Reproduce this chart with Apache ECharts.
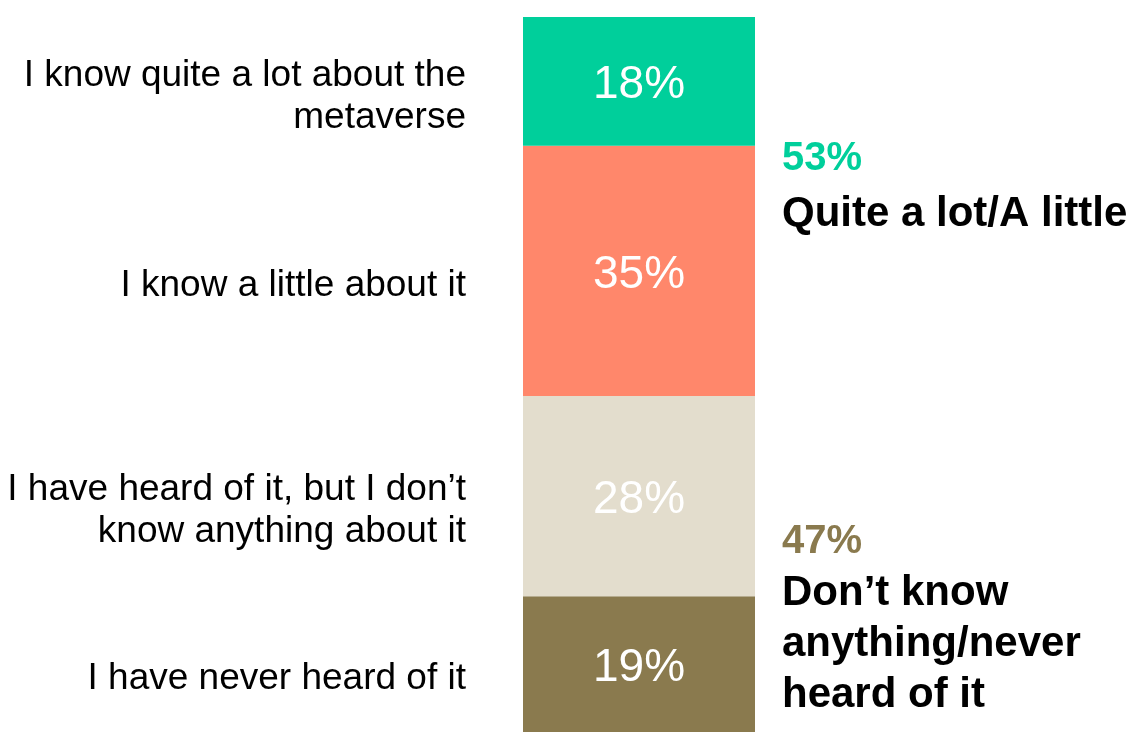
<!DOCTYPE html>
<html>
<head>
<meta charset="utf-8">
<script src="https://cdn.jsdelivr.net/npm/echarts@6/dist/echarts.min.js"></script>
<style>
html,body{margin:0;padding:0;background:#fff;}
#chart{width:1135px;height:732px;}
</style>
</head>
<body>
<div id="chart"></div>
<script>
// Data (top to bottom as shown in the chart)
const categories = [
  'I know quite a lot about the\nmetaverse',
  'I know a little about it',
  'I have heard of it, but I don\u2019t\nknow anything about it',
  'I have never heard of it'
];
const values = [18, 35, 28, 19];
const summaryValues = [53, 47];
const summaryLabels = ['Quite a lot/A little', 'Don\u2019t know\nanything/never\nheard of it'];

const segColors = ['#00CF9B', '#FF876B', '#E3DDCD', '#8A7A4E'];
const summaryColors = ['#00CF9B', '#8A7A4E'];
const FONT = 'Arial, "Liberation Sans", sans-serif';

const chart = echarts.init(document.getElementById('chart'), null, {renderer: 'canvas'});

// stack from bottom to top => reverse order
const order = [3, 2, 1, 0];
const series = order.map(i => ({
  name: categories[i],
  type: 'bar',
  stack: 'total',
  barWidth: '100%',
  data: [values[i]],
  itemStyle: {color: segColors[i]},
  label: {
    show: true,
    position: 'inside',
    offset: [0, 4],
    formatter: '{c}%',
    color: '#fff',
    fontSize: 46,
    fontFamily: FONT
  },
  emphasis: {disabled: true},
  silent: true
}));

chart.setOption({
  animation: false,
  grid: {left: 523, width: 232, top: 17, bottom: 0, containLabel: false},
  xAxis: {type: 'category', data: [''], show: false},
  yAxis: {type: 'value', min: 0, max: 100, show: false},
  series: series
});

// Build text annotations from the data via the chart's scales
function py(v) { return chart.convertToPixel({yAxisIndex: 0}, v); }
const barLeft = chart.convertToPixel({xAxisIndex: 0}, 0) - 116;
const barRight = barLeft + 232;

const graphics = [];
// cumulative boundaries from top
let topCum = 100;
categories.forEach((c, i) => {
  const yTop = py(topCum);
  const yBot = py(topCum - values[i]);
  topCum -= values[i];
  graphics.push({
    type: 'text',
    style: {
      text: c,
      x: barLeft - 57,
      y: (yTop + yBot) / 2 + 15,
      align: 'right',
      verticalAlign: 'middle',
      fontSize: 37,
      fontFamily: FONT,
      lineHeight: 42,
      fill: '#000'
    },
    silent: true
  });
});

// Summary blocks
const b1 = py(100 - values[0]);            // boundary between first and second group
const b3 = py(values[3]);                  // boundary between third and fourth
const sx = barRight + 27;
graphics.push({
  type: 'text',
  style: {text: summaryValues[0] + '%', x: sx, y: b1 + 13, align: 'left', verticalAlign: 'middle',
    fontSize: 40, fontWeight: 'bold', fontFamily: FONT, fill: summaryColors[0]},
  silent: true
});
graphics.push({
  type: 'text',
  style: {text: summaryLabels[0], x: sx, y: b1 + 69, align: 'left', verticalAlign: 'middle',
    fontSize: 42, fontWeight: 'bold', fontFamily: FONT, fill: '#000'},
  silent: true
});
graphics.push({
  type: 'text',
  style: {text: summaryValues[1] + '%', x: sx, y: b3 - 54, align: 'left', verticalAlign: 'middle',
    fontSize: 40, fontWeight: 'bold', fontFamily: FONT, fill: summaryColors[1]},
  silent: true
});
graphics.push({
  type: 'text',
  style: {text: summaryLabels[1], x: sx, y: b3 + 48, align: 'left', verticalAlign: 'middle',
    fontSize: 42, fontWeight: 'bold', fontFamily: FONT, lineHeight: 51, fill: '#000'},
  silent: true
});

chart.setOption({graphic: graphics});
</script>
</body>
</html>
